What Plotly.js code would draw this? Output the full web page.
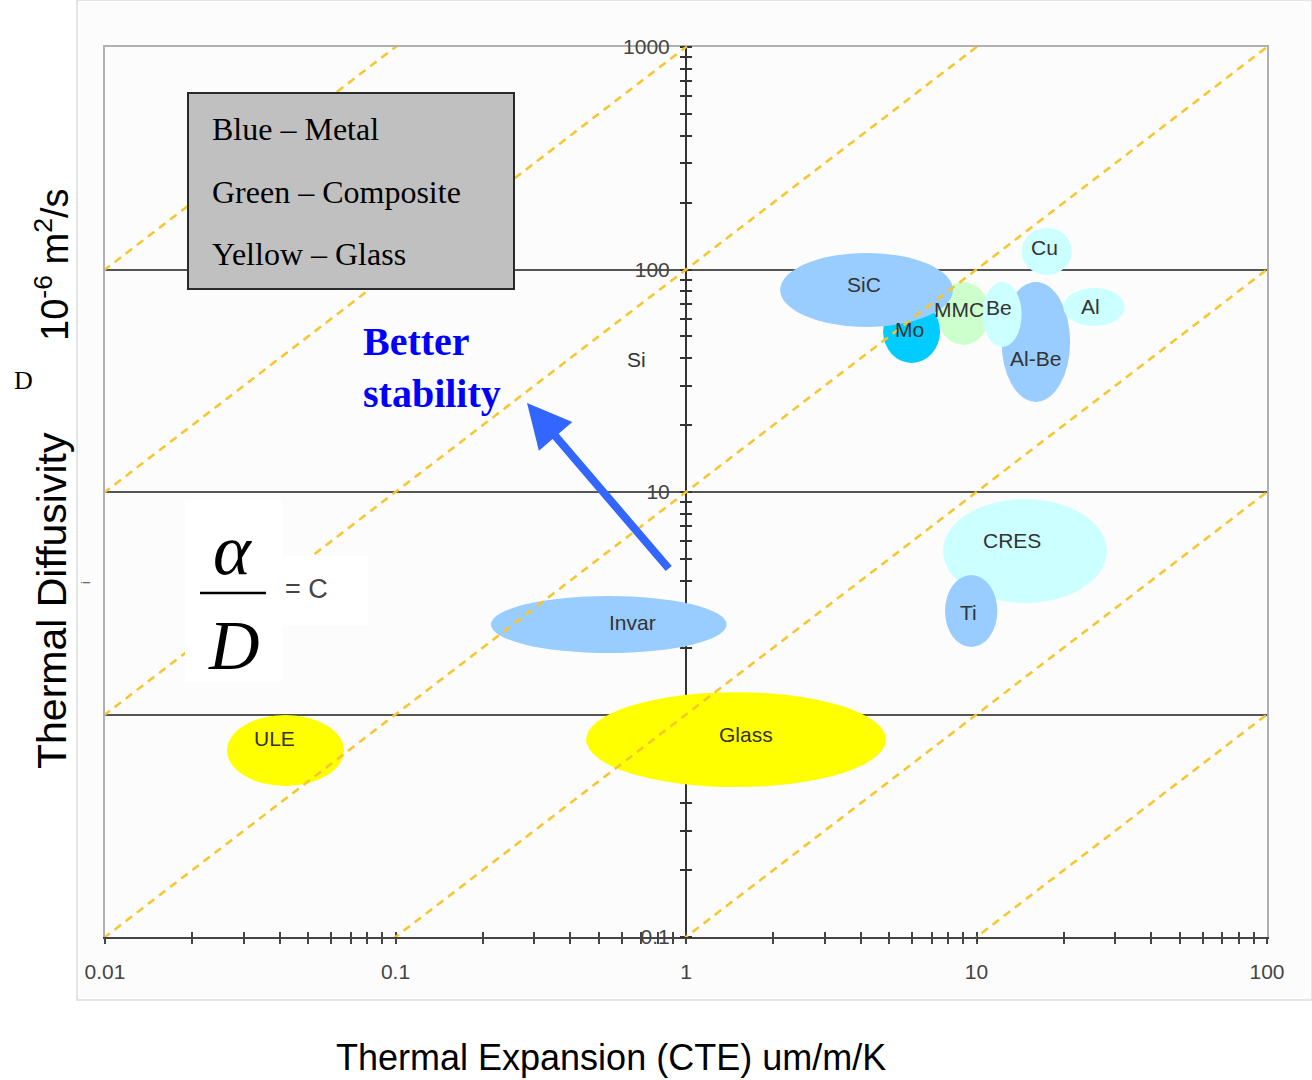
<!DOCTYPE html>
<html><head><meta charset="utf-8">
<script src="https://cdn.plot.ly/plotly-3.0.1.min.js"></script>
<style>html,body{margin:0;padding:0;background:#fff}#chart{width:1312px;height:1080px}</style>
</head><body><div id="chart"></div>
<script>
// ---------- data ----------
const materials = ['MMC','Mo','SiC','Al-Be','Be','Cu','Al','CRES','Ti','Invar','Glass','ULE'];
const cteLow   = [7.31, 4.77, 2.11, 12.2, 10.5, 14.3, 19.9, 7.67, 7.79, 0.213, 0.453, 0.0263];
const cteHigh  = [11.1, 7.49, 8.30, 21.0, 14.3, 21.3, 32.4, 28.1, 11.8, 1.38, 4.88, 0.0665];
const diffLow  = [45.8, 38.0, 55.2, 25.4, 44.8, 94.5, 55.7, 3.17, 2.01, 1.89, 0.472, 0.477];
const diffHigh = [87.9, 72.9, 118.6, 87.9, 87.9, 153.7, 82.6, 9.30, 4.24, 3.41, 1.26, 0.995];

const labelNames = ['SiC','Mo','MMC','Be','Al-Be','Cu','Al','Si','CRES','Ti','Invar','Glass','ULE'];
const labelCte   = [4.10, 5.86, 8.71, 11.95, 15.9, 17.2, 24.6, 0.678, 13.25, 9.42, 0.652, 1.61, 0.0382];
const labelDiff  = [86.0, 54.0, 66.4, 67.8, 40.0, 126.2, 68.5, 39.2, 6.08, 2.86, 2.60, 0.809, 0.784];

const stabilityRatios = [10000, 1000, 100, 10, 1, 0.1, 0.01]; // D = ratio * CTE

const cteMajorTicks = [0.01, 0.1, 1, 10, 100];
const cteTickLabels = ['0.01', '0.1', '1', '10', '100'];
const diffMajorTicks = [0.1, 1, 10, 100, 1000];
const diffTickLabels = ['0.1', '', '10', '100', '1000'];
const diffGridValues = [1, 10, 100];

const legendLines = ['Blue \u2013 Metal', 'Green \u2013 Composite', 'Yellow \u2013 Glass'];

// ---------- styles ----------
const fillByMaterial = {
  'MMC': '#CCFFCC', 'Mo': '#00CCFF', 'SiC': '#99CCFF', 'Al-Be': '#99CCFF',
  'Be': '#CCFFFF', 'Cu': '#CCFFFF', 'Al': '#CCFFFF', 'CRES': '#CCFFFF',
  'Ti': '#99CCFF', 'Invar': '#99CCFF', 'Glass': '#FFFF00', 'ULE': '#FFFF00'
};
const SANS = 'Liberation Sans, Arial, sans-serif';
const SERIF = 'Liberation Serif, Times New Roman, serif';

// plot area in pixels (for decorative paper-placed items)
const L = 105, T = 47, W = 1162, H = 890;
const px = x => (x - L) / W;
const py = y => 1 - (y - T) / H;

function logTicks(majors, labels) {
  const vals = [], text = [];
  majors.forEach((m, i) => {
    vals.push(m); text.push(labels[i]);
    if (i < majors.length - 1) for (let k = 2; k <= 9; k++) { vals.push(m * k); text.push(''); }
  });
  return {vals, text};
}
const xt = logTicks(cteMajorTicks, cteTickLabels);
const yt = logTicks(diffMajorTicks, diffTickLabels);

// ---------- traces (empty, only to create the axis subplots) ----------
const traces = [
  {type:'scatter', x:[], y:[], xaxis:'x', yaxis:'y', showlegend:false, hoverinfo:'skip'},
  {type:'scatter', x:[], y:[], xaxis:'x2', yaxis:'y', showlegend:false, hoverinfo:'skip'},
  {type:'scatter', x:[], y:[], xaxis:'x3', yaxis:'y', showlegend:false, hoverinfo:'skip'},
  {type:'scatter', x:[], y:[], xaxis:'x', yaxis:'y2', showlegend:false, hoverinfo:'skip'},
  {type:'scatter', x:[], y:[], xaxis:'x', yaxis:'y3', showlegend:false, hoverinfo:'skip'}
];

// ---------- shapes ----------
const shapes = [];
shapes.push({type:'rect', xref:'paper', yref:'paper', x0:px(77), x1:px(1312), y0:py(1000), y1:py(0),
  fillcolor:'#FCFCFC', line:{color:'#DDDDDD', width:1.5}, layer:'below'});
materials.forEach((m, i) => {
  shapes.push({type:'circle', xref:'x', yref:'y', x0:cteLow[i], x1:cteHigh[i], y0:diffLow[i], y1:diffHigh[i],
    fillcolor: fillByMaterial[m], line:{width:0}, layer:'above'});
});
stabilityRatios.forEach(r => {
  shapes.push({type:'line', xref:'x', yref:'y', x0:1e-3, x1:1e3, y0:r * 1e-3, y1:r * 1e3,
    line:{color:'#F7C52C', width:2.5, dash:'8px,6px'}, layer:'above'});
});
shapes.push({type:'rect', xref:'paper', yref:'paper', x0:px(185), x1:px(282), y0:py(682), y1:py(500),
  fillcolor:'#FFFFFF', line:{width:0}, layer:'above'});
shapes.push({type:'rect', xref:'paper', yref:'paper', x0:px(282), x1:px(368), y0:py(625), y1:py(556),
  fillcolor:'#FFFFFF', line:{width:0}, layer:'above'});
shapes.push({type:'line', xref:'paper', yref:'paper', x0:px(200), x1:px(266), y0:py(593), y1:py(593),
  line:{color:'#000', width:2.5}, layer:'above'});
shapes.push({type:'rect', xref:'paper', yref:'paper', x0:px(188), x1:px(514), y0:py(289), y1:py(93),
  fillcolor:'#C0C0C0', line:{color:'#2a2a2a', width:2}, layer:'above'});

// ---------- annotations ----------
const annotations = [];
labelNames.forEach((n, i) => {
  annotations.push({xref:'x', yref:'y', x:Math.log10(labelCte[i]), y:Math.log10(labelDiff[i]),
    xanchor:'center', yanchor:'middle', text:n, showarrow:false, font:{family:SANS, size:21, color:'#333'}});
});
function note(x, y, text, font, extra) {
  annotations.push(Object.assign({xref:'paper', yref:'paper', x:px(x), y:py(y), text, showarrow:false,
    xanchor:'center', yanchor:'middle', font}, extra || {}));
}
legendLines.forEach((t, i) => note(210, 129 + i * 62.5, t, {family:SERIF, size:32, color:'#000'}, {xanchor:'left'}));
note(361, 367, '<b>Better<br>stability</b>', {family:SERIF, size:40, color:'#0000FF'}, {xanchor:'left', align:'left'});
annotations.push({xref:'paper', yref:'paper', x:px(527), y:py(403), ax:143, ay:167, text:'',
  showarrow:true, arrowhead:2, arrowsize:1.1, arrowwidth:8, arrowcolor:'#3366FF', standoff:0});
note(232, 550, '<i>\u03b1</i>', {family:SERIF, size:72, color:'#000'});
note(234, 645, '<i>D</i>', {family:SERIF, size:70, color:'#000'});
note(283, 589, '= C', {family:SANS, size:27, color:'#444'}, {xanchor:'left'});
note(611, 1057, 'Thermal Expansion (CTE) um/m/K', {family:SANS, size:36, color:'#000'});
note(52, 601, 'Thermal Diffusivity', {family:SANS, size:41, color:'#000'}, {textangle:-90});
note(52, 265, '10<sup>-6</sup> m<sup>2</sup>/s', {family:SANS, size:38, color:'#000'}, {textangle:-90});
note(23, 380, 'D', {family:SERIF, size:26, color:'#000'});
note(85, 583, 'i', {family:SANS, size:13, color:'#666'}, {textangle:-90});

// ---------- layout ----------
const tickFont = {family:SANS, size:21, color:'#444'};
const layout = {
  width:1312, height:1080,
  margin:{l:L, r:1312 - L - W, t:T, b:1080 - T - H, pad:0},
  paper_bgcolor:'#FFFFFF', plot_bgcolor:'rgba(0,0,0,0)',
  showlegend:false,
  xaxis:{type:'log', range:[-2, 2], domain:[0, 1], anchor:'y', showgrid:false, zeroline:false,
    showline:true, linecolor:'#444', linewidth:2, ticks:'outside', ticklen:5, tickwidth:2, tickcolor:'#444',
    tickmode:'array', tickvals:xt.vals, ticktext:xt.text, tickfont:tickFont, ticklabelstandoff:10},
  xaxis2:{type:'log', range:[-2, 2], overlaying:'x', anchor:'y', side:'bottom', showgrid:false, zeroline:false,
    showline:false, ticks:'inside', ticklen:5, tickwidth:2, tickcolor:'#444', tickmode:'array', tickvals:xt.vals,
    showticklabels:false},
  xaxis3:{type:'log', range:[-2, 2], overlaying:'x', anchor:'y', side:'top', showgrid:false, zeroline:false,
    showline:true, linecolor:'#B0B0B0', linewidth:2, ticks:'', showticklabels:false},
  yaxis:{type:'log', range:[-1, 3], domain:[0, 1], anchor:'free', position:0.5, side:'left', showgrid:false, zeroline:false,
    showline:true, linecolor:'#333', linewidth:2, ticks:'outside', ticklen:5, tickwidth:2, tickcolor:'#333',
    tickmode:'array', tickvals:yt.vals, ticktext:yt.text, tickfont:tickFont, ticklabelstandoff:6},
  yaxis2:{type:'log', range:[-1, 3], overlaying:'y', anchor:'free', position:0.5, side:'right', showgrid:false, zeroline:false,
    showline:false, ticks:'outside', ticklen:5, tickwidth:2, tickcolor:'#333', tickmode:'array', tickvals:yt.vals,
    showticklabels:false},
  yaxis3:{type:'log', range:[-1, 3], overlaying:'y', anchor:'x', side:'left', zeroline:false,
    showline:true, mirror:true, linecolor:'#B0B0B0', linewidth:2, ticks:'', showticklabels:false,
    showgrid:true, gridcolor:'#555', gridwidth:2, tickmode:'array', tickvals:diffGridValues},
  shapes, annotations
};
Plotly.newPlot('chart', traces, layout, {staticPlot:true});
</script></body></html>
